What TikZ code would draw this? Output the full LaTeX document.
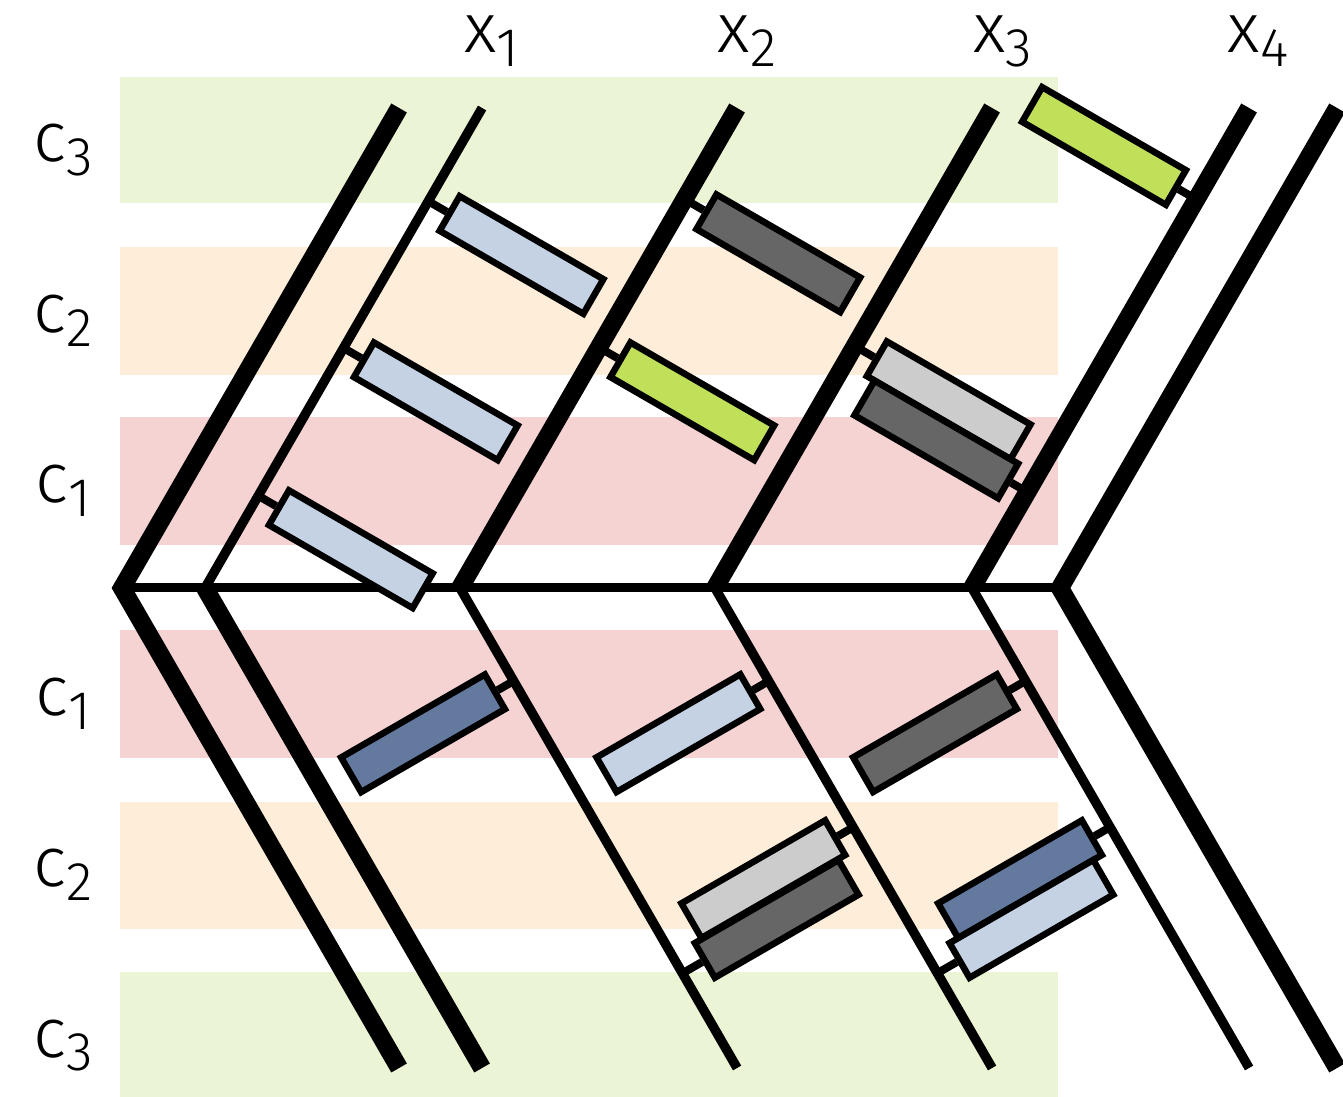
\documentclass[tikz,border=0pt]{standalone}
\usepackage{fontspec}
\IfFontExistsTF{Fira Sans Light}{\setmainfont{Fira Sans Light}}{%
  \IfFontExistsTF{FiraSans-Light.otf}{\setmainfont{FiraSans-Light.otf}}{\setmainfont{Fira Sans}}}
\usetikzlibrary{calc}
\definecolor{bandG}{HTML}{EBF5D5}
\definecolor{bandO}{HTML}{FEEDD9}
\definecolor{bandR}{HTML}{F6D3D3}
\definecolor{cLB}{HTML}{C4D2E4}
\definecolor{cDB}{HTML}{64799E}
\definecolor{cGR}{HTML}{C0E05A}
\definecolor{cLG}{HTML}{CCCCCC}
\definecolor{cDG}{HTML}{666666}
\newcommand{\lbl}[2]{#1\raisebox{-0.27cm}{\fontsize{31pt}{31pt}\selectfont #2}}
\begin{document}
\begin{tikzpicture}[x=0.02cm, y=-0.02cm,
  thickln/.style={line width=0.36cm, line cap=butt, line join=miter},
  thinln/.style={line width=0.19cm, line cap=butt, line join=miter},
  hln/.style={line width=0.18cm},
  stubln/.style={line width=0.16cm},
  blk/.style={draw=black, line width=0.13cm, inner sep=0pt, minimum width=3.32cm, minimum height=0.8cm, line join=miter},
  uprect/.style={blk, rotate=-30, fill=#1},
  dnrect/.style={blk, rotate=30, fill=#1},
  lab/.style={inner sep=0pt, anchor=base, font=\fontsize{40pt}{40pt}\selectfont}]
\useasboundingbox (0,0) rectangle (1343,1097);

% bands
\fill[bandG] (120,77) rectangle (1058,203);
\fill[bandO] (120,247) rectangle (1058,375);
\fill[bandR] (120,417) rectangle (1058,545);
\fill[bandR] (120,630) rectangle (1058,758);
\fill[bandO] (120,802) rectangle (1058,929);
\fill[bandG] (120,972) rectangle (1058,1097);

% junctions, tops, bottoms
\coordinate (J1) at (122,588);  \coordinate (T1) at (399.1,108);  \coordinate (B1) at (399.1,1068);
\coordinate (J2) at (205,588);  \coordinate (T2) at (482.1,108);  \coordinate (B2) at (482.1,1068);
\coordinate (J3) at (460,588);  \coordinate (T3) at (737.1,108);  \coordinate (B3) at (737.1,1068);
\coordinate (J4) at (715,588);  \coordinate (T4) at (992.1,108);  \coordinate (B4) at (992.1,1068);
\coordinate (J5) at (972,588);  \coordinate (T5) at (1249.1,108); \coordinate (B5) at (1249.1,1068);
\coordinate (J6) at (1060,588); \coordinate (T6) at (1337.1,108); \coordinate (B6) at (1337.1,1068);

% lines
\draw[hln] (J1) -- (J6);
\draw[thickln] (T1) -- (J1) -- (B1);
\draw[thinln] (J2) -- (T2);  \draw[thickln] (J2) -- (B2);
\draw[thickln] (J3) -- (T3); \draw[thinln] (J3) -- (B3);
\draw[thickln] (J4) -- (T4); \draw[thinln] (J4) -- (B4);
\draw[thickln] (J5) -- (T5); \draw[thinln] (J5) -- (B5);
\draw[thickln] (T6) -- (J6) -- (B6);

% upper blocks
\node[uprect=cLB] (A) at (521.5,255) {};
\node[uprect=cLB] (B) at (435.8,401.3) {};
\node[uprect=cLB] (C) at (350.8,549.2) {};
\node[uprect=cDG] (D) at (778.3,253.3) {};
\node[uprect=cGR] (E) at (692.3,401.3) {};
\node[uprect=cLG] (F) at (948.7,400.3) {};
\node[uprect=cDG] (G) at (936.3,439.5) {};
\node[uprect=cGR] (H) at (1104,146) {};
% lower blocks
\node[dnrect=cDB] (I) at (423,733.3) {};
\node[dnrect=cLB] (Jr) at (678.4,733.2) {};
\node[dnrect=cDG] (K) at (935,733.2) {};
\node[dnrect=cLG] (L) at (763.3,879.2) {};
\node[dnrect=cDG] (M) at (776.7,918.9) {};
\node[dnrect=cDB] (N) at (1020,879.2) {};
\node[dnrect=cLB] (O) at (1031.4,918.9) {};

% stubs
\draw[stubln] (A.west) -- ($(J2)!(A.west)!(T2)$);
\draw[stubln] (B.west) -- ($(J2)!(B.west)!(T2)$);
\draw[stubln] (C.west) -- ($(J2)!(C.west)!(T2)$);
\draw[stubln] (D.west) -- ($(J3)!(D.west)!(T3)$);
\draw[stubln] (E.west) -- ($(J3)!(E.west)!(T3)$);
\draw[stubln] (F.west) -- ($(J4)!(F.west)!(T4)$);
\draw[stubln] (G.east) -- ($(J5)!(G.east)!(T5)$);
\draw[stubln] (H.east) -- ($(J5)!(H.east)!(T5)$);
\draw[stubln] (I.east) -- ($(J3)!(I.east)!(B3)$);
\draw[stubln] (Jr.east) -- ($(J4)!(Jr.east)!(B4)$);
\draw[stubln] (K.east) -- ($(J5)!(K.east)!(B5)$);
\draw[stubln] (L.east) -- ($(J4)!(L.east)!(B4)$);
\draw[stubln] (M.west) -- ($(J3)!(M.west)!(B3)$);
\draw[stubln] (N.east) -- ($(J5)!(N.east)!(B5)$);
\draw[stubln] (O.west) -- ($(J4)!(O.west)!(B4)$);

% labels
\node[lab] (x1) at (491.5,53) {\lbl{x}{1}};
\node[lab] (x2) at (747,53) {\lbl{x}{2}};
\node[lab] (x3) at (1002.5,53) {\lbl{x}{3}};
\node[lab] (x4) at (1258,53) {\lbl{x}{4}};
\node[lab] (c3a) at (63.5,162) {\lbl{c}{3}};
\node[lab] (c2a) at (63.5,333) {\lbl{c}{2}};
\node[lab] (c1a) at (63.5,503) {\lbl{c}{1}};
\node[lab] (c1b) at (63.5,716) {\lbl{c}{1}};
\node[lab] (c2b) at (63.5,887) {\lbl{c}{2}};
\node[lab] (c3b) at (63.5,1057) {\lbl{c}{3}};
\end{tikzpicture}
\end{document}
